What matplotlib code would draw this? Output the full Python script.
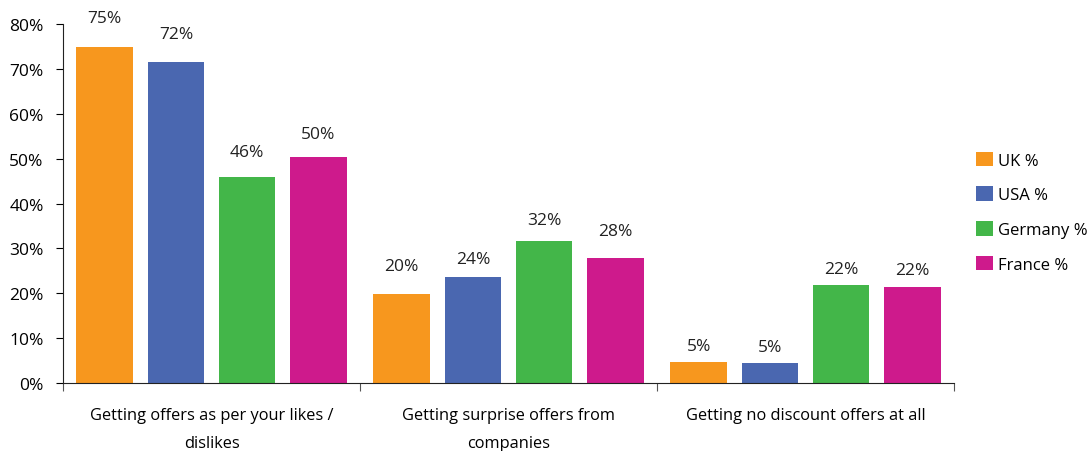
import matplotlib.pyplot as plt
import numpy as np

plt.rcParams['font.family'] = ['Open Sans', 'DejaVu Sans']

categories = ["Getting offers as per your likes /\ndislikes",
              "Getting surprise offers from\ncompanies",
              "Getting no discount offers at all"]
series = ["UK %", "USA %", "Germany %", "France %"]
uk = [74.8, 19.8, 4.7]
usa = [71.6, 23.6, 4.5]
germany = [45.9, 31.7, 21.8]
france = [50.4, 27.8, 21.4]
labels = [["75%", "20%", "5%"], ["72%", "24%", "5%"],
          ["46%", "32%", "22%"], ["50%", "28%", "22%"]]
colors = ["#F7971E", "#4A67B0", "#43B649", "#CE1A8C"]
# label gap above bar top, in pixels (the original places them by hand)
label_gap = [[29, 28, 16], [28, 18, 16], [25, 21, 16], [23, 27, 17]]

fig = plt.figure(figsize=(10.92, 4.52), dpi=100)
ax = fig.add_axes([0.0577, 0.150, 0.816, 0.795])

x = np.arange(len(categories))
step = 0.24
width = 0.19
for i, (name, vals) in enumerate(zip(series, [uk, usa, germany, france])):
    pos = x + (i - 1.5) * step
    ax.bar(pos, vals, width, color=colors[i], label=name, zorder=2)
    for p, v, t, g in zip(pos, vals, labels[i], label_gap[i]):
        ax.annotate(t, (p, v), xytext=(0, g * 0.72), textcoords='offset points',
                    ha='center', va='center', fontsize=12.5, color='#222222')

ax.set_xlim(-0.5, 2.5)
ax.set_ylim(0, 80)
ax.set_yticks(range(0, 81, 10))
ax.set_yticklabels([f"{v}%" for v in range(0, 81, 10)])
ax.set_xticks([-0.5, 0.5, 1.5, 2.5])
ax.set_xticklabels([])
ax.set_xticks(x, minor=True)
ax.set_xticklabels(categories, minor=True)
ax.tick_params(axis='x', which='major', length=6, direction='out', color='#555555')
ax.tick_params(axis='x', which='minor', length=0, pad=17, labelsize=11.8)
ax.tick_params(axis='y', length=5, labelsize=12.5, pad=9)
for t in ax.get_xticklabels(minor=True):
    t.set_linespacing(2.0)

ax.spines['top'].set_visible(False)
ax.spines['right'].set_visible(False)
ax.spines['left'].set_color('#222222')
ax.spines['bottom'].set_color('#222222')

ax.legend(loc='center left', bbox_to_anchor=(1.008, 0.476), frameon=False,
          fontsize=12, handlelength=1.0, handleheight=1.0, labelspacing=1.05,
          handletextpad=0.3)

fig.savefig("out.png", dpi=100)
